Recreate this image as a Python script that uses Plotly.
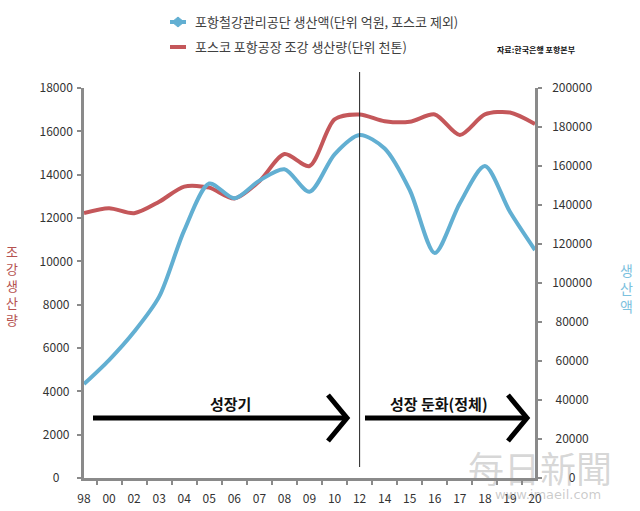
import plotly.graph_objects as go

# ---- data ----
years = ["98", "00", "02", "03", "04", "05", "06", "07", "08", "09",
         "10", "12", "14", "15", "16", "17", "18", "19", "20"]
steel = [12230, 12450, 12220, 12750, 13450, 13400, 12900, 13700, 14950, 14400,
         16550, 16780, 16470, 16440, 16780, 15830, 16780, 16870, 16340]
output = [48200, 60500, 75000, 93000, 127000, 151000, 143400, 152500, 158300, 146800,
          166000, 175900, 169000, 147700, 115400, 140900, 160000, 136500, 116900]
left_ticks = [0, 2000, 4000, 6000, 8000, 10000, 12000, 14000, 16000, 18000]
right_ticks = [0, 20000, 40000, 60000, 80000, 100000, 120000, 140000, 160000, 180000, 200000]
divider_year = "12"

name_out = "포항철강관리공단 생산액(단위 억원, 포스코 제외)"
name_steel = "포스코 포항공장 조강 생산량(단위 천톤)"
source = "자료:한국은행 포항본부"
phase1 = "성장기"
phase2 = "성장 둔화(정체)"

RED = "#c4575a"
BLUE = "#62afd2"
AX = "#8a8a8a"
FONT = "Noto Sans CJK KR"

W, H = 640, 511
L, R, T, B = 84, 105, 88, 33
PW, PH = W - L - R, H - T - B


def px(x):
    return (x - L) / PW


def py(y):
    return (H - B - y) / PH


INV = "<span style='color:rgba(0,0,0,0)'>{}</span>"
HALF = "<span style='color:rgba(0,0,0,0);font-size:6px'>0</span>"


def pad(n):
    out = ""
    if n // 2:
        out += INV.format("0" * (n // 2))
    if n % 2:
        out += HALF
    return out


# center-align tick labels by invisible padding
def pad_left_axis(v):
    s = str(v)
    return s + pad(5 - len(s))


def pad_right_axis(v):
    s = str(v)
    return pad(6 - len(s)) + s


fig = go.Figure()
fig.add_trace(go.Scatter(x=years, y=steel, mode="lines", name=name_steel,
                         line=dict(color=RED, width=4, shape="spline", smoothing=0.8),
                         showlegend=False))
fig.add_trace(go.Scatter(x=years, y=output, mode="lines", name=name_out, yaxis="y2",
                         line=dict(color=BLUE, width=4, shape="spline", smoothing=0.8),
                         showlegend=False))

div_idx = years.index(divider_year)
shapes = []
# vertical divider at 12
shapes.append(dict(type="line", xref="x", yref="paper", x0=div_idx, x1=div_idx,
                   y0=py(467), y1=py(72), line=dict(color="#222222", width=1)))
# arrows
for x0, x1 in [(93, 347), (365, 527)]:
    shapes.append(dict(type="path", xref="paper", yref="paper",
                       path=f"M {px(x0)},{py(418)} L {px(x1)},{py(418)}",
                       line=dict(color="black", width=5)))
    shapes.append(dict(type="path", xref="paper", yref="paper",
                       path=f"M {px(x1-19)},{py(395)} L {px(x1)},{py(418)} L {px(x1-19)},{py(441)}",
                       line=dict(color="black", width=5)))
# legend symbols
shapes.append(dict(type="line", xref="paper", yref="paper", x0=px(170), x1=px(186),
                   y0=py(22), y1=py(22), line=dict(color=BLUE, width=4)))
shapes.append(dict(type="path", xref="paper", yref="paper",
                   path=f"M {px(172)},{py(22)} L {px(178)},{py(17)} L {px(184)},{py(22)} L {px(178)},{py(27)} Z",
                   fillcolor=BLUE, line=dict(color=BLUE, width=1)))
shapes.append(dict(type="line", xref="paper", yref="paper", x0=px(170), x1=px(186),
                   y0=py(47), y1=py(47), line=dict(color=RED, width=4)))

annotations = [
    dict(text=name_out, x=px(193), y=py(22), xref="paper", yref="paper", xanchor="left",
         yanchor="middle", showarrow=False, font=dict(family=FONT, size=13, color="#404040")),
    dict(text=name_steel, x=px(193), y=py(47), xref="paper", yref="paper", xanchor="left",
         yanchor="middle", showarrow=False, font=dict(family=FONT, size=13, color="#404040")),
    dict(text=source, x=px(495), y=py(50), xref="paper", yref="paper", xanchor="left",
         yanchor="middle", showarrow=False, font=dict(family=FONT, size=8, color="#111111", weight="bold")),
    dict(text=phase1, x=px(230), y=py(403), xref="paper", yref="paper", xanchor="center",
         yanchor="middle", showarrow=False, font=dict(family=FONT, size=15, color="#111111", weight="bold")),
    dict(text=phase2, x=px(439), y=py(403), xref="paper", yref="paper", xanchor="center",
         yanchor="middle", showarrow=False, font=dict(family=FONT, size=15, color="#111111", weight="bold")),
    dict(text="<br>".join("조강생산량"), x=px(12), y=py(285), xref="paper", yref="paper",
         xanchor="center", yanchor="middle", showarrow=False,
         font=dict(family=FONT, size=13, color="#b5524f")),
    dict(text="<br>".join("생산액"), x=px(626), y=py(288), xref="paper", yref="paper",
         xanchor="center", yanchor="middle", showarrow=False,
         font=dict(family=FONT, size=14, color="#7cc1de")),
    # watermark
    dict(text="每日新聞", x=px(540), y=py(467), xref="paper", yref="paper",
         xanchor="center", yanchor="middle", showarrow=False,
         font=dict(family="Noto Sans CJK TC", size=36, color="rgba(140,140,140,0.35)")),
    dict(text="www.imaeil.com", x=px(548), y=py(494), xref="paper", yref="paper",
         xanchor="center", yanchor="middle", showarrow=False,
         font=dict(family="DejaVu Sans", size=13, color="rgba(140,140,140,0.45)")),
]

fig.update_layout(
    width=W, height=H,
    margin=dict(l=L, r=R, t=T, b=B, autoexpand=False),
    paper_bgcolor="white", plot_bgcolor="white",
    font=dict(family=FONT, size=12, color="#333333"),
    showlegend=False,
    xaxis=dict(type="category", categoryorder="array", categoryarray=years,
               showline=True, linecolor=AX, linewidth=2.5, showgrid=False, zeroline=False,
               ticks="outside", tickson="boundaries", ticklen=4, tickwidth=2, tickcolor=AX,
               ticklabelstandoff=8, automargin=False,
               tickfont=dict(family=FONT, size=12, color="#333333")),
    yaxis=dict(range=[0, 18000], tickvals=left_ticks, ticktext=[pad_left_axis(v) for v in left_ticks],
               showline=True, linecolor=AX, linewidth=2.5, showgrid=False, zeroline=False,
               ticks="outside", ticklen=4, tickwidth=2, tickcolor=AX, ticklabelstandoff=2,
               automargin=False, tickfont=dict(family=FONT, size=12, color="#333333")),
    yaxis2=dict(range=[0, 200000], overlaying="y", side="right", tickvals=right_ticks,
                ticktext=[pad_right_axis(v) for v in right_ticks],
                showline=True, linecolor=AX, linewidth=2.5, showgrid=False, zeroline=False,
                ticks="outside", ticklen=4, tickwidth=2, tickcolor=AX, ticklabelstandoff=8,
                automargin=False, tickfont=dict(family=FONT, size=12, color="#333333")),
    shapes=shapes,
    annotations=annotations,
)

fig.write_html("out.html", config={"displayModeBar": False},
               post_script="document.body.style.margin='0';document.body.style.overflow='hidden';")
